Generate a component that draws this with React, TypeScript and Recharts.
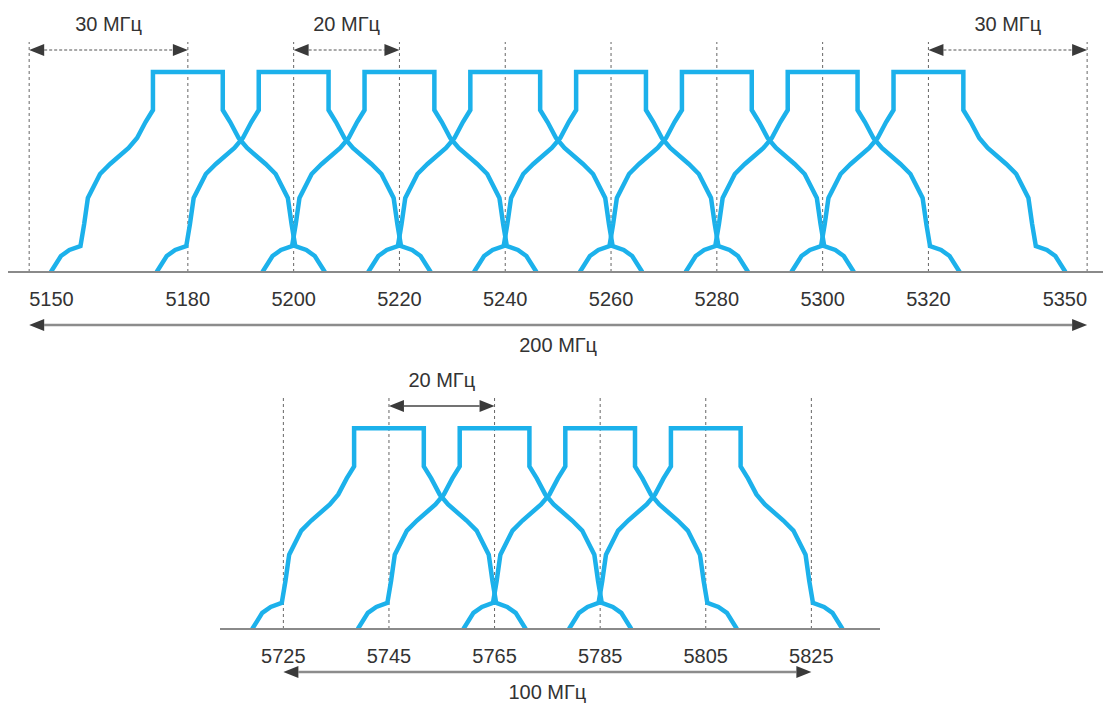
import { LineChart, Line, XAxis, YAxis, ReferenceLine } from "recharts";

// 5 GHz band, lower part (5150-5350) and upper part (5725-5825)
const LOW_CHANNELS = [5180, 5200, 5220, 5240, 5260, 5280, 5300, 5320];
const LOW_TICKS = [5150, 5180, 5200, 5220, 5240, 5260, 5280, 5300, 5320, 5350];
const HIGH_CHANNELS = [5745, 5765, 5785, 5805];
const HIGH_TICKS = [5725, 5745, 5765, 5785, 5805, 5825];

// one side of the spectral mask:
// offset from the channel centre in MHz, and the level (flat top = 100)
const MASK_OFFSET = [6.6, 6.6, 8.0, 9.6, 11.2, 14.7, 16.6, 18.9, 19.6, 20.3, 22.4, 24, 25.9];
const MASK_LEVEL = [100, 81, 75, 67, 62, 54, 49, 37, 24, 13, 11, 8, 0];

// dimension arrows
const LOW_SPANS = [
  { from: 5150, to: 5180, label: "30 МГц" },
  { from: 5200, to: 5220, label: "20 МГц" },
  { from: 5320, to: 5350, label: "30 МГц" },
];
const LOW_BAND = { from: 5150, to: 5350, label: "200 МГц" };
const HIGH_SPANS = [{ from: 5745, to: 5765, label: "20 МГц" }];
const HIGH_BAND = { from: 5725, to: 5825, label: "100 МГц" };

const BLUE = "#1cb1eb";
const FONT = "'Liberation Sans', Arial, sans-serif";
const GUIDE_TOP = 115;
const SPAN_LEVEL = 111;

const maskFor = (c: number) => [
  ...MASK_OFFSET.map((o, i) => ({ f: c - o, v: MASK_LEVEL[i] })).reverse(),
  ...MASK_OFFSET.map((o, i) => ({ f: c + o, v: MASK_LEVEL[i] })),
];

function Dimension(props: any) {
  const { x1, y1, x2, y2, label, kind, labelDy } = props;
  const head = 15;
  const half = 6;
  const shaft =
    kind === "band"
      ? { stroke: "#8c8c8c", strokeWidth: 2.5 }
      : kind === "dashed"
      ? { stroke: "#555", strokeWidth: 1.2, strokeDasharray: "3 2" }
      : { stroke: "#444", strokeWidth: 1.6 };
  return (
    <g>
      <line x1={x1 + head} y1={y1} x2={x2 - head} y2={y2} {...shaft} />
      <polygon points={`${x1},${y1} ${x1 + head},${y1 - half} ${x1 + head},${y1 + half}`} fill="#3a3a3a" />
      <polygon points={`${x2},${y2} ${x2 - head},${y2 - half} ${x2 - head},${y2 + half}`} fill="#3a3a3a" />
      <text
        x={(x1 + x2) / 2}
        y={y1 + labelDy}
        dy="0.35em"
        textAnchor="middle"
        fontSize={20}
        fill="#333"
        fontFamily={FONT}
      >
        {label}
      </text>
    </g>
  );
}

function Tick(props: any) {
  const { x, y, payload, ticks, edges } = props;
  let anchor = "middle";
  if (edges && payload.value === ticks[0]) anchor = "start";
  if (edges && payload.value === ticks[ticks.length - 1]) anchor = "end";
  return (
    <text x={x} y={y} dy="0.71em" textAnchor={anchor} fontSize={20} fill="#333" fontFamily={FONT}>
      {payload.value}
    </text>
  );
}

function BandChart(props: any) {
  const { channels, ticks, domain, spans, band, bandLevel, spanKind, margin, edges } = props;
  return (
    <LineChart width={1111} height={365} margin={margin}>
      <XAxis
        type="number"
        dataKey="f"
        domain={domain}
        ticks={ticks}
        interval={0}
        allowDataOverflow
        tickLine={false}
        tickMargin={14}
        height={30}
        axisLine={{ stroke: "#8a8a8a", strokeWidth: 2 }}
        tick={<Tick ticks={ticks} edges={edges} />}
      />
      <YAxis hide type="number" domain={[0, 116]} allowDataOverflow />
      {ticks.map((t: number) => (
        <ReferenceLine
          key={"g" + t}
          segment={[{ x: t, y: 0 }, { x: t, y: GUIDE_TOP }]}
          stroke="#666"
          strokeWidth={1}
          strokeDasharray="3 3"
          ifOverflow="visible"
        />
      ))}
      {channels.map((c: number) => (
        <Line
          key={c}
          data={maskFor(c)}
          dataKey="v"
          stroke={BLUE}
          strokeWidth={4.5}
          dot={false}
          isAnimationActive={false}
        />
      ))}
      {spans.map((s: any) => (
        <ReferenceLine
          key={"s" + s.from}
          segment={[{ x: s.from, y: SPAN_LEVEL }, { x: s.to, y: SPAN_LEVEL }]}
          ifOverflow="visible"
          shape={(p: any) => <Dimension {...p} label={s.label} kind={spanKind} labelDy={-26} />}
        />
      ))}
      <ReferenceLine
        segment={[{ x: band.from, y: bandLevel }, { x: band.to, y: bandLevel }]}
        ifOverflow="visible"
        shape={(p: any) => <Dimension {...p} label={band.label} kind="band" labelDy={20} />}
      />
    </LineChart>
  );
}

export default function App() {
  return (
    <div
      style={{
        position: "absolute",
        left: 0,
        top: 0,
        width: 1111,
        height: 704,
        background: "#fff",
        fontFamily: FONT,
      }}
    >
      <div style={{ position: "absolute", left: 0, top: 0 }}>
        <BandChart
          channels={LOW_CHANNELS}
          ticks={LOW_TICKS}
          domain={[5146, 5353]}
          spans={LOW_SPANS}
          band={LOW_BAND}
          bandLevel={-26.5}
          spanKind="dashed"
          edges
          margin={{ top: 40, right: 8, bottom: 63, left: 8 }}
        />
      </div>
      <div style={{ position: "absolute", left: 0, top: 340 }}>
        <BandChart
          channels={HIGH_CHANNELS}
          ticks={HIGH_TICKS}
          domain={[5713, 5838]}
          spans={HIGH_SPANS}
          band={HIGH_BAND}
          bandLevel={-21.4}
          spanKind="solid"
          edges={false}
          margin={{ top: 56, right: 231, bottom: 46, left: 220 }}
        />
      </div>
    </div>
  );
}
